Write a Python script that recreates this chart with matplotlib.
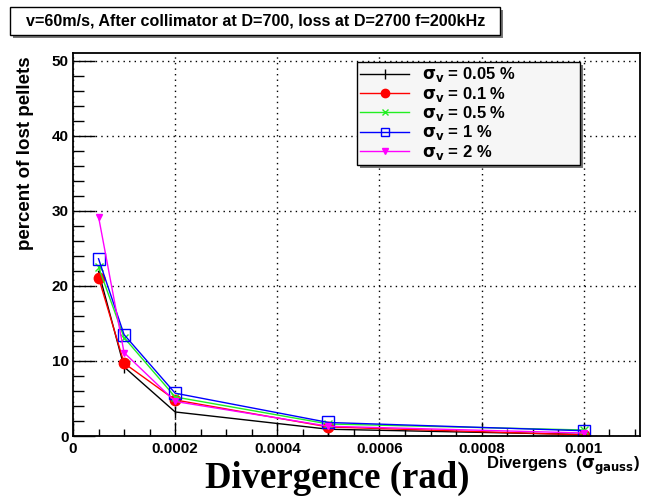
import numpy as np
import matplotlib
matplotlib.use('Agg')
import matplotlib.pyplot as plt
from matplotlib.patches import Rectangle
from matplotlib.ticker import MultipleLocator, FuncFormatter

# divergence values (rad)
divergence = [0.00005, 0.0001, 0.0002, 0.0005, 0.001]

# percent of lost pellets for each velocity spread
loss_005 = [21.9, 9.2, 3.2, 0.9, 0.2]
loss_01 = [21.1, 9.7, 4.8, 1.2, 0.15]
loss_05 = [22.5, 13.1, 5.2, 1.6, 0.8]
loss_1 = [23.6, 13.5, 5.7, 1.8, 0.7]
loss_2 = [29.2, 11.1, 4.6, 1.3, 0.4]

labels = [r'$\mathbf{\sigma_v}$ = 0.05 %', r'$\mathbf{\sigma_v}$ = 0.1 %',
          r'$\mathbf{\sigma_v}$ = 0.5 %', r'$\mathbf{\sigma_v}$ = 1 %',
          r'$\mathbf{\sigma_v}$ = 2 %']

plt.rcParams['font.family'] = ['Liberation Sans', 'DejaVu Sans']
plt.rcParams['mathtext.fontset'] = 'dejavusans'

fig = plt.figure(figsize=(6.49, 5.00), dpi=100)
ax = fig.add_axes([73/649, 64/500, 567/649, 383/500])

series = [loss_005, loss_01, loss_05, loss_1, loss_2]
colors = ['black', '#ff0000', '#22ee22', '#0000ff', '#ff00ff']
markers = ['|', 'o', 'x', 's', 'v']
msizes = [9, 7.5, 6, 8, 5]
mfc = ['black', '#ff0000', '#22ee22', 'none', '#ff00ff']

for s, c, m, ms, fc, lab in zip(series, colors, markers, msizes, mfc, labels):
    ax.plot(divergence, s, color=c, lw=1, marker=m, markersize=ms,
            markerfacecolor=fc, markeredgecolor=c, markeredgewidth=1, label=lab)

ax.set_xlim(0, 0.00111)
ax.set_ylim(0, 51)

ax.xaxis.set_major_locator(MultipleLocator(0.0002))
ax.xaxis.set_minor_locator(MultipleLocator(0.00005))
ax.yaxis.set_major_locator(MultipleLocator(10))
ax.yaxis.set_minor_locator(MultipleLocator(2))

def fmt_x(v, p):
    if abs(v) < 1e-12:
        return '0'
    return ('%.4f' % v).rstrip('0')
ax.xaxis.set_major_formatter(FuncFormatter(fmt_x))

ax.tick_params(axis='both', which='both', direction='in', labelsize=11)
ax.tick_params(axis='x', which='major', length=10, width=1, pad=4)
ax.tick_params(axis='x', which='minor', length=5, width=1)
ax.tick_params(axis='y', which='major', length=16, width=1, pad=3)
ax.tick_params(axis='y', which='minor', length=8, width=1)
for t in ax.get_xticklabels() + ax.get_yticklabels():
    t.set_fontweight('bold')

ax.grid(True, which='major', color='black', linestyle=(0, (1, 3)), lw=1)
for sp in ax.spines.values():
    sp.set_linewidth(1.3)

leg = ax.legend(loc='upper left', bbox_to_anchor=(0.501, 0.0, 0.393, 0.9765), mode='expand',
                prop={'weight': 'bold', 'size': 12}, frameon=True, fancybox=False,
                shadow=False, handlelength=2.9, borderpad=0.2, labelspacing=0.02,
                handletextpad=0.8, borderaxespad=0, markerscale=0.8,
                edgecolor='black', facecolor='#f6f6f6', framealpha=1)
leg.get_frame().set_linewidth(1)
leg.set_zorder(6)
# shadow of the legend box
fig.canvas.draw()
bb = leg.get_window_extent().transformed(fig.transFigure.inverted())
ax.add_patch(Rectangle((bb.x0 + 0.005, bb.y0 - 0.006), bb.width, bb.height,
                       transform=fig.transFigure, facecolor='#777777',
                       edgecolor='none', zorder=5, clip_on=False))

ax.set_ylabel('percent of lost pellets', fontsize=13.5, fontweight='bold', loc='top')
ax.yaxis.set_label_coords(-0.069, 0.99)

# title box
fig.patches.append(Rectangle((13/649, 1 - 38/500), 490/649, 28/500, transform=fig.transFigure,
                             facecolor='#777777', edgecolor='none'))
fig.patches.append(Rectangle((10/649, 1 - 35/500), 490/649, 28/500, transform=fig.transFigure,
                             facecolor='white', edgecolor='black', lw=1))
fig.text(256/649, 1 - 21/500, 'v=60m/s, After collimator at D=700, loss at D=2700 f=200kHz',
         ha='center', va='center', fontsize=11.6, fontweight='bold')

fig.text(640/649, 1 - 466/500, r'Divergens  ($\mathbf{\sigma_{gauss}}$)', ha='right',
         va='center', fontsize=12, fontweight='bold')
fig.text(337/649, 1 - 488/500, 'Divergence (rad)', ha='center', va='baseline',
         fontsize=26.5, fontweight='bold', family='Liberation Serif')

fig.savefig('out.png', dpi=100)
